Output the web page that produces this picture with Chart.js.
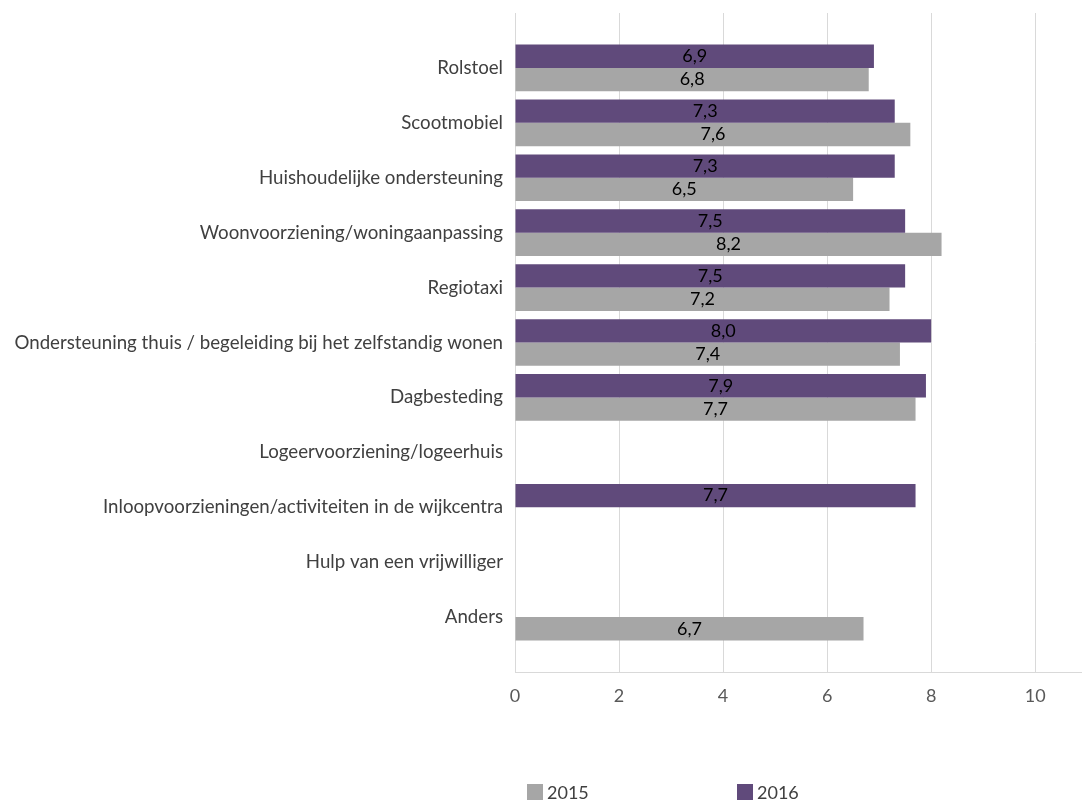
<!DOCTYPE html>
<html>
<head>
<meta charset="utf-8">
<script src="https://cdn.jsdelivr.net/npm/chart.js@4/dist/chart.umd.min.js"></script>
<style>
  html, body { margin: 0; padding: 0; background: #fff; }
  #wrap { position: relative; width: 1082px; height: 800px; overflow: hidden; }
  #legend { position: absolute; top: 784px; left: 0; width: 1082px; font: 18px Lato, sans-serif; color: #404040; }
  #legend span.item { position: absolute; top: 0; white-space: nowrap; }
  #legend span.box { display: inline-block; width: 16px; height: 16px; vertical-align: top; margin-right: 4px; }
  #legend span.txt { display: inline-block; line-height: 18px; vertical-align: top; margin-top: -1px; }
</style>
</head>
<body>
<div id="wrap">
  <canvas id="canvas"></canvas>
  <div id="legend"></div>
</div>
<script>
const categories = [
    'Rolstoel',
    'Scootmobiel',
    'Huishoudelijke ondersteuning',
    'Woonvoorziening/woningaanpassing',
    'Regiotaxi',
    'Ondersteuning thuis / begeleiding bij het zelfstandig wonen',
    'Dagbesteding',
    'Logeervoorziening/logeerhuis',
    'Inloopvoorzieningen/activiteiten in de wijkcentra',
    'Hulp van een vrijwilliger',
    'Anders'
];
const values2015 = [6.8, 7.6, 6.5, 8.2, 7.2, 7.4, 7.7, null, null, null, 6.7];
const values2016 = [6.9, 7.3, 7.3, 7.5, 7.5, 8.0, 7.9, null, 7.7, null, null];
const xTicks = [0, 2, 4, 6, 8, 10];

const font = 'Lato, "Open Sans", sans-serif';

// empty slot above and below the list so the bands sit inside the grid
const pad = arr => [null, ...arr, null];

const data = {
    labels: ['', ...categories, ''],
    datasets: [{
        label: '2016',
        data: pad(values2016),
        backgroundColor: '#604a7b',
        borderWidth: 0
    }, {
        label: '2015',
        data: pad(values2015),
        backgroundColor: '#a6a6a6',
        borderWidth: 0
    }]
};

// value written in the middle of each bar, decimal comma
const valueLabels = {
    id: 'valueLabels',
    afterDatasetsDraw(chart) {
        const ctx = chart.ctx;
        ctx.save();
        ctx.font = '18px ' + font;
        ctx.fillStyle = '#000';
        ctx.textAlign = 'center';
        ctx.textBaseline = 'middle';
        chart.data.datasets.forEach((ds, i) => {
            chart.getDatasetMeta(i).data.forEach((bar, j) => {
                const v = ds.data[j];
                if (v == null) return;
                ctx.fillText(v.toFixed(1).replace('.', ','), (bar.x + bar.base) / 2, bar.y);
            });
        });
        ctx.restore();
    }
};

// legend as html so the two entries can sit far apart
const htmlLegend = {
    id: 'htmlLegend',
    afterUpdate(chart) {
        const el = document.getElementById('legend');
        el.innerHTML = '';
        const items = chart.options.plugins.legend.labels.generateLabels(chart).reverse();
        const lefts = [527, 737];
        items.forEach((item, k) => {
            const span = document.createElement('span');
            span.className = 'item';
            span.style.left = lefts[k] + 'px';
            const box = document.createElement('span');
            box.className = 'box';
            box.style.background = item.fillStyle;
            const txt = document.createElement('span');
            txt.className = 'txt';
            txt.textContent = item.text;
            span.appendChild(box);
            span.appendChild(txt);
            el.appendChild(span);
        });
    }
};

const config = {
    type: 'bar',
    data: data,
    options: {
        indexAxis: 'y',
        responsive: true,
        maintainAspectRatio: false,
        animation: false,
        layout: { padding: { top: 13, left: 0, right: 0, bottom: 88 } },
        datasets: { bar: { categoryPercentage: 0.85, barPercentage: 1.0 } },
        plugins: {
            legend: { display: false },
            tooltip: { enabled: false }
        },
        scales: {
            x: {
                min: 0,
                max: 10.9,
                ticks: {
                    stepSize: 2,
                    padding: 13,
                    color: '#595959',
                    font: { family: font, size: 18 }
                },
                afterBuildTicks: axis => {
                    axis.ticks = xTicks.map(v => ({ value: v }));
                },
                afterFit: scale => {
                    scale.height = 40;
                    scale.paddingLeft = 0;
                    scale.paddingRight = 0;
                },
                grid: { color: '#d9d9d9', drawTicks: false },
                border: { color: '#d9d9d9' }
            },
            y: {
                offset: false,
                ticks: {
                    autoSkip: false,
                    padding: 12,
                    color: '#404040',
                    font: { family: font, size: 18.7 }
                },
                afterFit: scale => {
                    scale.width = 515;
                    scale.paddingTop = 0;
                    scale.paddingBottom = 0;
                },
                grid: { display: false, drawTicks: false },
                border: { display: false }
            }
        }
    },
    plugins: [valueLabels, htmlLegend]
};

const myChart = new Chart(document.querySelector('#canvas'), config);
</script>
</body>
</html>
